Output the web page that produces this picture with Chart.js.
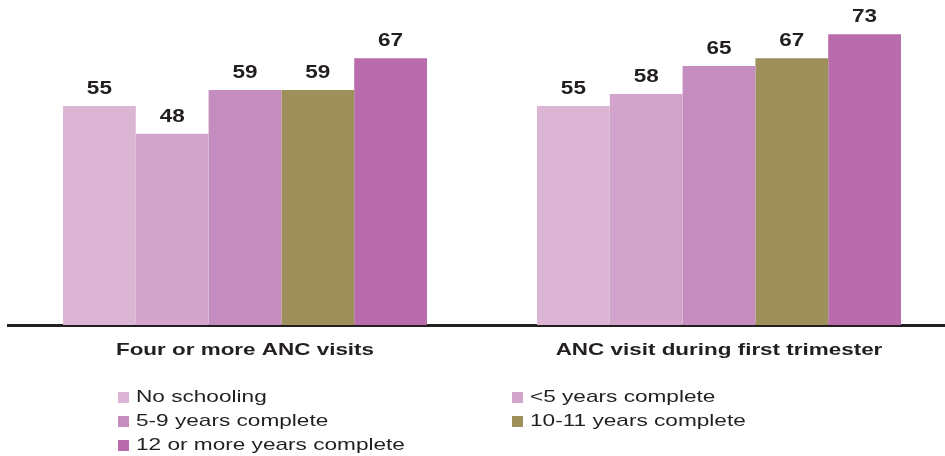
<!DOCTYPE html>
<html>
<head>
<meta charset="utf-8">
<script src="https://cdn.jsdelivr.net/npm/chart.js@4/dist/chart.umd.min.js"></script>
<style>
  html, body { margin: 0; padding: 0; background: #fff; overflow: hidden; }
  body { width: 945px; height: 456px; position: relative; font-family: "Liberation Sans", Arial, sans-serif; }
  #chart { position: absolute; left: 0; top: 0; }
  #legend { position: absolute; left: 118px; top: 386px; width: 800px; }
  .item { position: absolute; height: 22px; font-size: 17px; line-height: 22px; color: #231f20; white-space: nowrap; }
  .item .box { position: absolute; left: 0; top: 6px; width: 11px; height: 11px; }
  .item .txt { position: absolute; left: 18px; top: 0; display: inline-block; transform: scaleX(1.33); transform-origin: left center; }
</style>
</head>
<body>
<canvas id="chart" width="960" height="456"></canvas>
<div id="legend"></div>
<script>
  // categorías y series
  const categories = ['Four or more ANC visits', 'ANC visit during first trimester'];
  const seriesNames = ['No schooling', '<5 years complete', '5-9 years complete', '10-11 years complete', '12 or more years complete'];
  const noSchooling = [55, 55];
  const lessThan5 = [48, 58];
  const years5to9 = [59, 65];
  const years10to11 = [59, 67];
  const years12plus = [67, 73];
  const colors = ['#dcb4d4', '#d2a4cb', '#c58cbf', '#9e905a', '#b86cab'];

  const seriesValues = [noSchooling, lessThan5, years5to9, years10to11, years12plus];
  const FONT = '"Liberation Sans", Arial, sans-serif';

  // texto ensanchado como en el original
  function wideText(ctx, text, x, y, stretch) {
    ctx.save();
    ctx.translate(x, y);
    ctx.scale(stretch, 1);
    ctx.fillText(text, 0, 0);
    ctx.restore();
  }

  // etiquetas encima de cada barra y de cada grupo
  const textLabels = {
    id: 'textLabels',
    afterDatasetsDraw(chart) {
      const ctx = chart.ctx;
      ctx.save();
      ctx.fillStyle = '#231f20';
      ctx.textAlign = 'center';
      ctx.font = 'bold 18px ' + FONT;
      ctx.textBaseline = 'bottom';
      chart.data.datasets.forEach((ds, i) => {
        chart.getDatasetMeta(i).data.forEach((bar, j) => {
          wideText(ctx, String(ds.data[j]), bar.x, bar.y - 8, 1.25);
        });
      });
      ctx.font = 'bold 17px ' + FONT;
      ctx.textBaseline = 'middle';
      const xs = chart.scales.x;
      categories.forEach((c, i) => {
        wideText(ctx, c, xs.getPixelForValue(i), chart.chartArea.bottom + 25, 1.32);
      });
      ctx.restore();
    }
  };

  new Chart(document.getElementById('chart'), {
    type: 'bar',
    data: {
      labels: categories,
      datasets: seriesNames.map((name, i) => ({
        label: name,
        data: seriesValues[i],
        backgroundColor: colors[i],
        borderWidth: 0,
        barPercentage: 1,
        categoryPercentage: 0.768
      }))
    },
    options: {
      responsive: false,
      animation: false,
      devicePixelRatio: 1,
      layout: { padding: { left: 8, right: 4, top: 0, bottom: 131 } },
      plugins: { legend: { display: false }, tooltip: { enabled: false } },
      scales: {
        x: {
          grid: { display: false, drawTicks: false },
          border: { display: true, color: '#231f20', width: 3 },
          ticks: { display: false }
        },
        y: {
          display: false,
          min: 0,
          max: 81.6
        }
      }
    },
    plugins: [textLabels]
  });

  // leyenda en dos columnas
  const legend = document.getElementById('legend');
  seriesNames.forEach((name, i) => {
    const el = document.createElement('div');
    el.className = 'item';
    el.style.left = (i % 2 === 0 ? 0 : 394) + 'px';
    el.style.top = (Math.floor(i / 2) * 24) + 'px';
    const box = document.createElement('span');
    box.className = 'box';
    box.style.background = colors[i];
    const txt = document.createElement('span');
    txt.className = 'txt';
    txt.textContent = name;
    el.appendChild(box);
    el.appendChild(txt);
    legend.appendChild(el);
  });
</script>
</body>
</html>
